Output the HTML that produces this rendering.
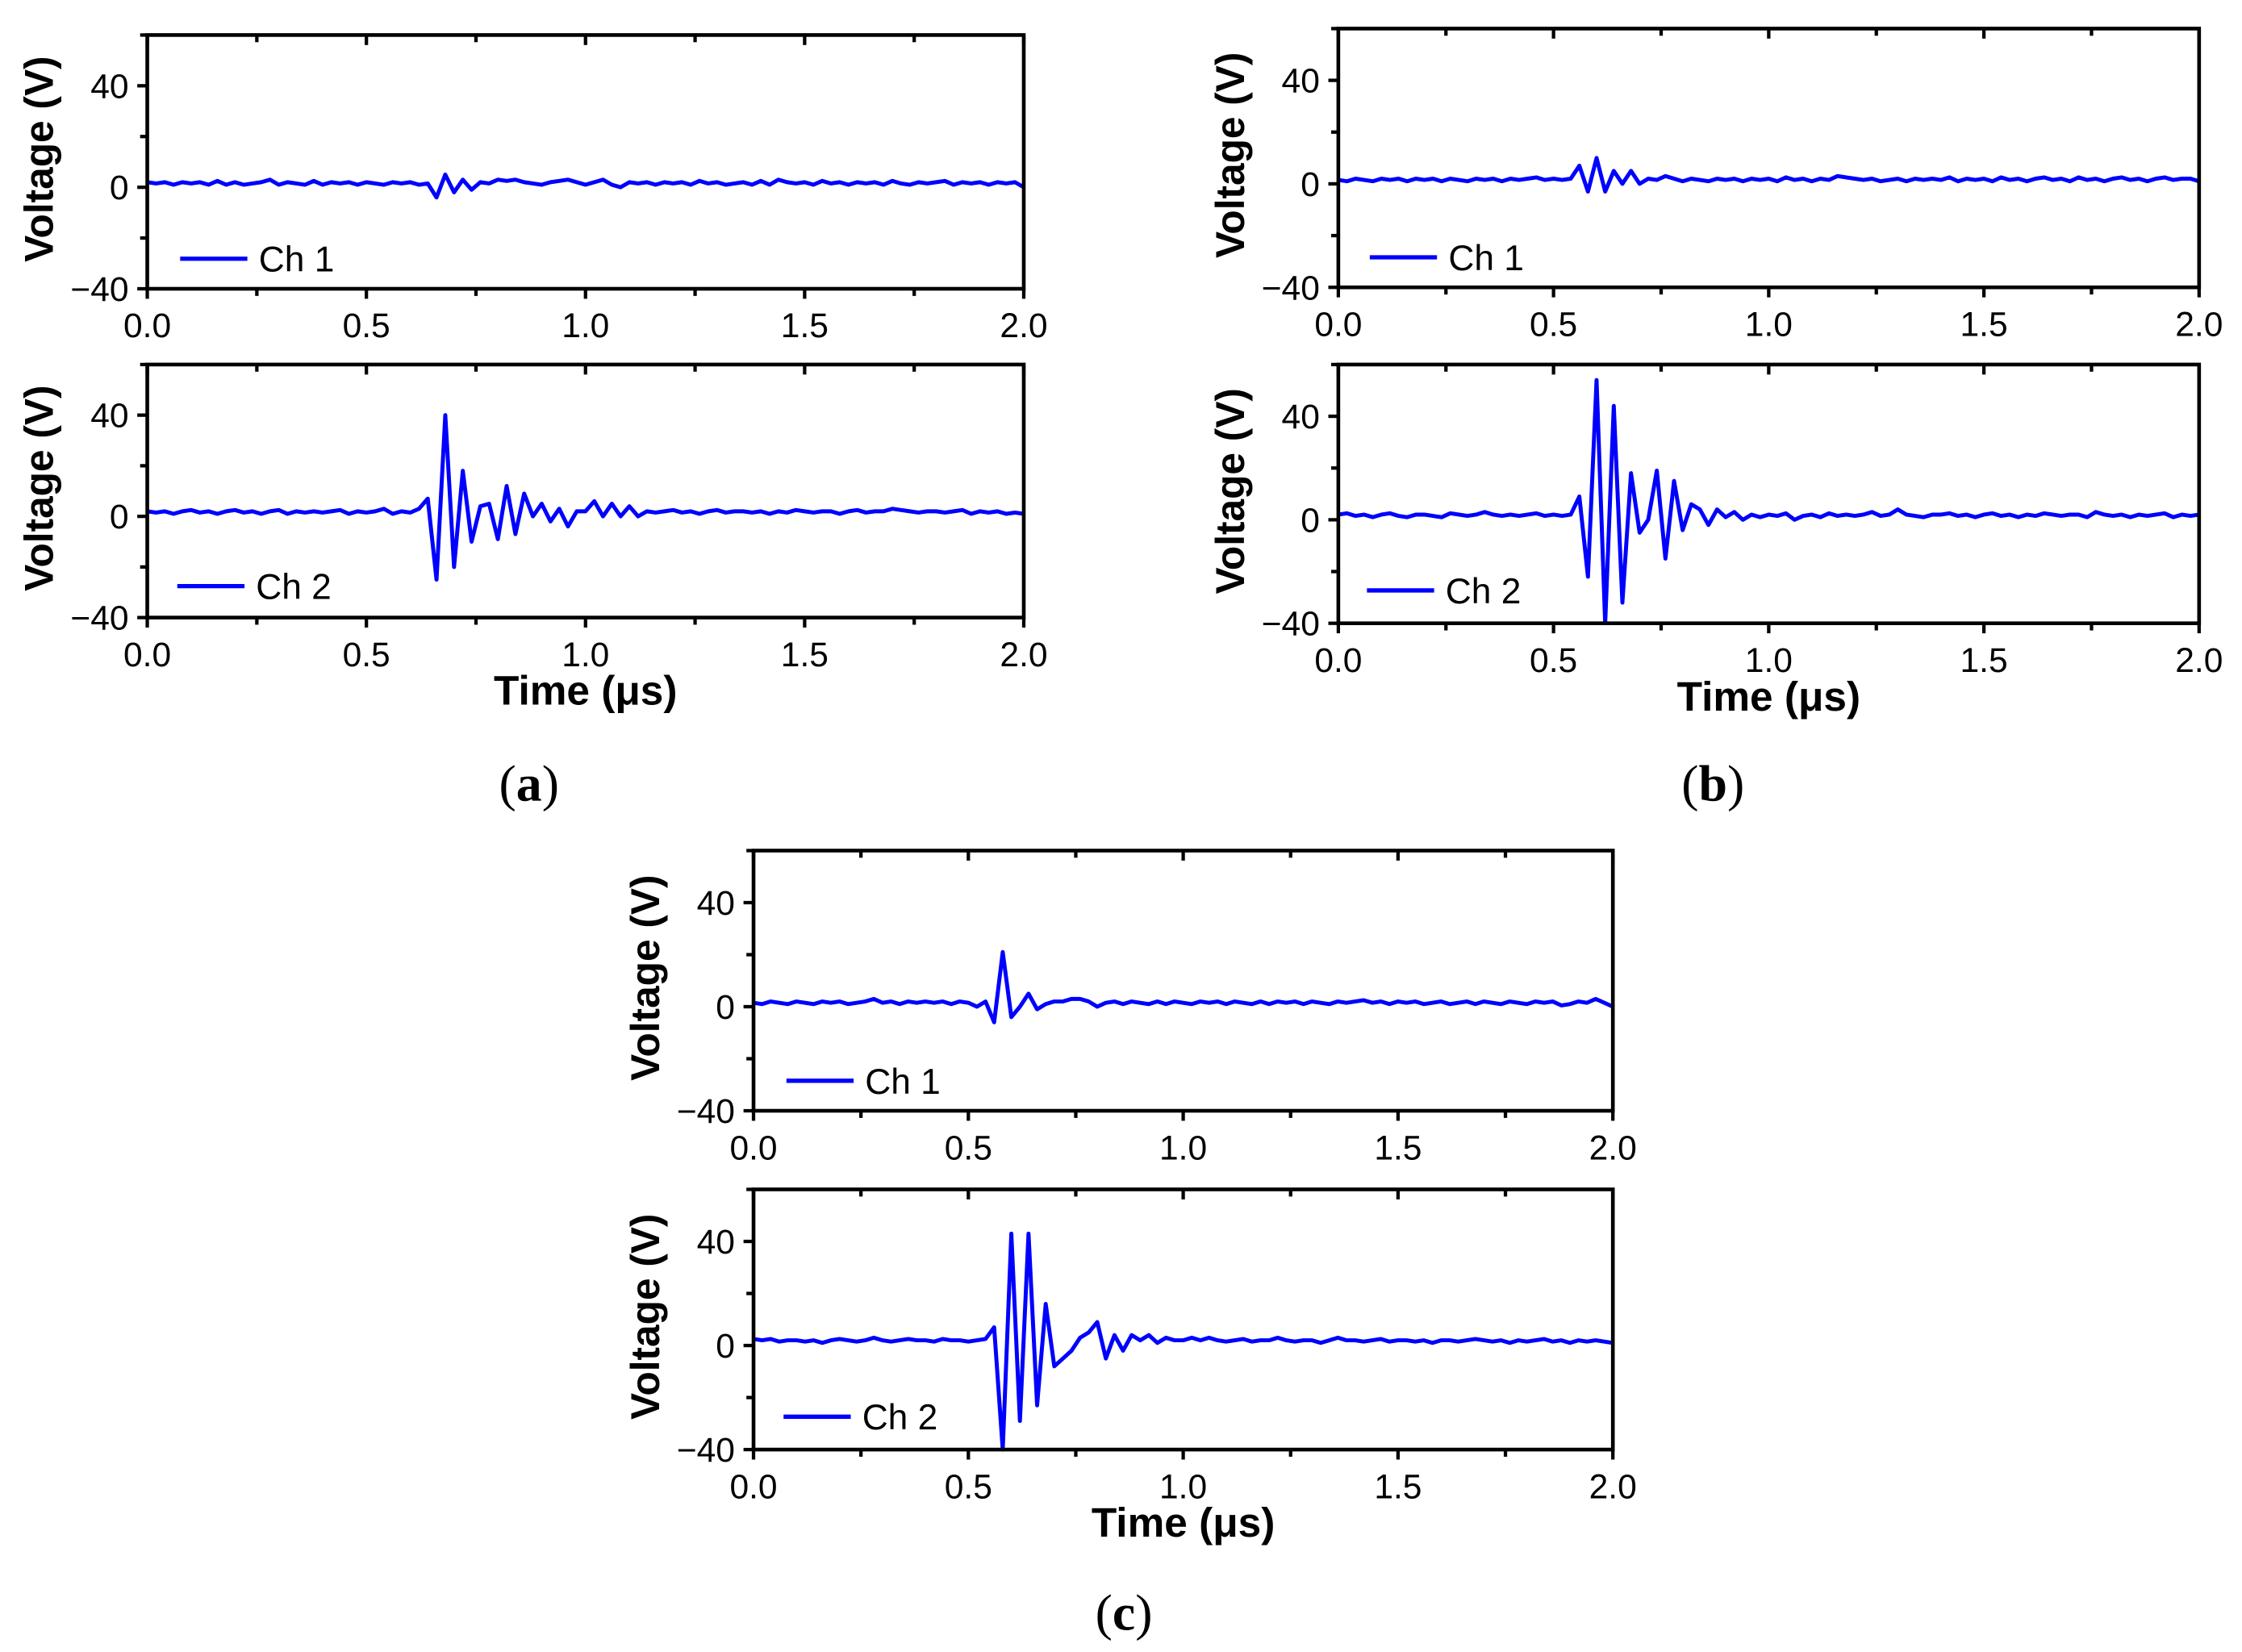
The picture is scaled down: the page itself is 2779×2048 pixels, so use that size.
<!DOCTYPE html>
<html><head><meta charset="utf-8"><style>
html,body{margin:0;padding:0;background:#fff}
svg{display:block}
text{font-family:"Liberation Sans",sans-serif;fill:#000}
</style></head><body>
<svg id="fig" width="2779" height="2048" viewBox="0 0 1568 1155.6" preserveAspectRatio="none" xmlns="http://www.w3.org/2000/svg"></svg>
<script>
// time axis: samples every 0.02 µs from 0 to 2.0
const sampleStep = 0.02;
const xTickLabels = ["0.0","0.5","1.0","1.5","2.0"];
const xTickValues = [0,0.5,1.0,1.5,2.0];
const yTickLabels = ["40","0","\u221240"];
const yTickValues = [40,0,-40];
const seriesA1 = [2,1.5,2,1,2,1.5,2,1,2.5,1, 2,1,1.5,2,3,1,2,1.5,1,2.5, 1,2,1.5,2,1,2,1.5,1,2,1.5, 2,1,1.5,-4,5,-2,3,-1,2,1.5, 3,2.5,3,2,1.5,1,2,2.5,3,2, 1,2,3,1,0,2,1.5,2,1,2, 1.5,2,1,2.5,1.5,2,1,1.5,2,1, 2.5,1,3,2,1.5,2,1,2.5,1.5,2, 1,2,1.5,2,1,2.5,1.5,1,2,1.5, 2,2.5,1,2,1.5,2,1,2,1.5,2,0];
const seriesA2 = [2,1.5,2,1,2,2.5,1.5,2,1,2, 2.5,1.5,2,1,2,2.5,1,2,1.5,2, 1.5,2,2.5,1,2,1.5,2,3,1,2, 1.5,3,7,-25,40,-20,18,-10,4,5, -9,12,-7,9,0,5,-2,3,-4,2, 2,6,0,5,0,4,0,2,1.5,2, 2.5,1.5,2,1,2,2.5,1.5,2,2,1.5, 2,1,2,1.5,2.5,2,1.5,2,2,1, 2,2.5,1.5,2,2,3,2.5,2,1.5,2, 2,1.5,2,2.5,1,2,1.5,2,1,1.5,1];
const seriesB1 = [1.5,1,2,1.5,1,2,1.5,2,1,2, 1.5,2,1,2,1.5,1,2,1.5,2,1, 2,1.5,2,2.5,1.5,2,1.5,2,7,-3, 10,-3,5,0,5,0,2,1.5,3,2, 1,2,1.5,1,2,1.5,2,1,2,1.5, 2,1,2.5,1.5,2,1,2,1.5,3,2.5, 2,1.5,2,1,1.5,2,1,2,1.5,2, 1.5,2.5,1,2,1.5,2,1,2.5,1.5,2, 1,2,2.5,1.5,2,1,2.5,1.5,2,1, 2,2.5,1.5,2,1,2,2.5,1.5,2,2,1];
const seriesB2 = [2,2.5,1.5,2,1,2,2.5,1.5,1,2, 2,1.5,1,2.5,2,1.5,2,3,2,1.5, 2,1.5,2,2.5,1.5,2,1.5,2,9,-22, 54,-40,44,-32,18,-5,0,19,-15,15, -4,6,4,-2,4,1,3,0,2,1, 2,1.5,2.5,0,1.5,2,1,2.5,1.5,2, 1.5,2,3,1.5,2,4,2,1.5,1,2, 2,2.5,1.5,2,1,2,2.5,1.5,2,1, 2,1.5,2.5,2,1.5,2,2,1,3,2, 1.5,2,1,2,1.5,2,2.5,1,2,1.5,2];
const seriesC1 = [1.5,1,2,1.5,1,2,1.5,1,2,1.5, 2,1,1.5,2,3,1.5,2,1,2,1.5, 2,1.5,2,1,2,1.5,0,2,-6,21, -4,0,5,-1,1,2,2,3,3,2, 0,1.5,2,1,2,1.5,1,2,1,2, 1.5,1,2,1.5,2,1,2,1.5,1,2, 1,2,1.5,2,1,2,1.5,1,2,1.5, 2,2.5,1.5,2,1,2,1.5,2,1,1.5, 2,1,1.5,2,1,2,1.5,1,2,1.5, 1,2,1.5,2,0.5,1,2,1.5,3,1.5,0];
const seriesC2 = [2.5,2,2.5,1.5,2,2,1.5,2,1,2, 2.5,2,1.5,2,3,2,1.5,2,2.5,2, 2,1.5,2.5,2,2,1.5,2,2.5,7,-40, 43,-29,43,-23,16,-8,-5,-2,3,5, 9,-5,4,-2,4,2,4,1,3,2, 2,3,2,3,2,1.5,2,2.5,1.5,2, 2,3,2,1.5,2,2,1,2,3,2, 2,1.5,2,2.5,1.5,2,2,1.5,2,1, 2,2,1.5,2,2.5,2,1.5,2,1,2, 1.5,2,2.5,1.5,2,1,2,1.5,2,1.5,1];

const NS="http://www.w3.org/2000/svg";
const svg=document.getElementById('fig');
function mk(tag,attrs,parent){const e=document.createElementNS(NS,tag);for(const k in attrs)e.setAttribute(k,attrs[k]);(parent||svg).appendChild(e);return e;}

const plots=[
 {id:'a-ch1',x0:103,x1:716,yTop:24.5,yBot:202,data:seriesA1,leg:'Ch 1',lx:126,ly:181,time:false},
 {id:'a-ch2',x0:103,x1:716,yTop:255,yBot:432,data:seriesA2,leg:'Ch 2',lx:124,ly:410,time:true},
 {id:'b-ch1',x0:936,x1:1538,yTop:20,yBot:201,data:seriesB1,leg:'Ch 1',lx:958,ly:180,time:false},
 {id:'b-ch2',x0:936,x1:1538,yTop:255,yBot:436,data:seriesB2,leg:'Ch 2',lx:956,ly:413,time:true},
 {id:'c-ch1',x0:527,x1:1128,yTop:595,yBot:777,data:seriesC1,leg:'Ch 1',lx:550,ly:756,time:false},
 {id:'c-ch2',x0:527,x1:1128,yTop:832,yBot:1014,data:seriesC2,leg:'Ch 2',lx:548,ly:991,time:true}
];
plots.forEach(p=>{
  const g=mk('g',{});
  
  
  const xs=t=>p.x0+(t/2)*(p.x1-p.x0);
  const ys=v=>p.yBot-(v+40)/100*(p.yBot-p.yTop);
  const pts=p.data.map((v,i)=>xs(i*sampleStep).toFixed(2)+','+ys(v).toFixed(2)).join(' ');
  const line=mk('polyline',{points:pts,fill:'none',stroke:'#0000ff','stroke-width':2.8,'stroke-linejoin':'round'},g);
  
  
  const fr=mk('rect',{x:p.x0,y:p.yTop,width:p.x1-p.x0,height:p.yBot-p.yTop,fill:'none',stroke:'#000','stroke-width':2.6},g);
  
  
  for(let k=0;k<=8;k++){
    const t=k*0.25,x=xs(t),maj=k%2===0;
    mk('line',{x1:x,x2:x,y1:p.yBot,y2:p.yBot+(maj?7:5),stroke:'#000','stroke-width':2.4},g);
    mk('line',{x1:x,x2:x,y1:p.yTop,y2:p.yTop+(maj?7:5),stroke:'#000','stroke-width':2.4},g);
  }
  xTickValues.forEach((t,i)=>{
    const tx=mk('text',{x:xs(t),y:p.yBot+34,'font-size':24,'text-anchor':'middle'},g);
    tx.textContent=xTickLabels[i];
    
    
  });
  for(let v=-40;v<=60;v+=20){
    const y=ys(v),maj=v%40===0;
    mk('line',{x1:p.x0,x2:p.x0-(maj?7:5),y1:y,y2:y,stroke:'#000','stroke-width':2.4},g);
  }
  yTickValues.forEach((v,i)=>{
    const tx=mk('text',{x:p.x0-13,y:ys(v)+8.5,'font-size':24,'text-anchor':'end'},g);
    tx.textContent=yTickLabels[i];
    
    
  });
  const cy=(p.yTop+p.yBot)/2-2;
  const yx=p.x0-66;
  const yt=mk('text',{x:yx,y:cy,'font-size':28,'font-weight':'bold','text-anchor':'middle',transform:`rotate(-90 ${yx} ${cy})`},g);
  yt.textContent='Voltage (V)';
  
  
  const lg=mk('g',{},g);
  
  
  mk('line',{x1:p.lx,x2:p.lx+47,y1:p.ly,y2:p.ly,stroke:'#0000ff','stroke-width':3},lg);
  const lt=mk('text',{x:p.lx+55,y:p.ly+9,'font-size':25},lg);
  lt.textContent=p.leg;
  if(p.time){
    const tt=mk('text',{x:(p.x0+p.x1)/2,y:p.yBot+61,'font-size':29,'font-weight':'bold','text-anchor':'middle'},g);
    tt.textContent='Time (\u03bcs)';
    
    
  }
});
[['(a)',370,548],['(b)',1198,548],['(c)',786,1128]].forEach(c=>{
  const t=mk('text',{x:c[1],y:c[2]+12,'font-size':36,'text-anchor':'middle',style:'font-family:"Liberation Serif",serif'});
  t.innerHTML='(<tspan font-weight="bold">'+c[0][1]+'</tspan>)';
  
  
});
</script>
</body></html>
